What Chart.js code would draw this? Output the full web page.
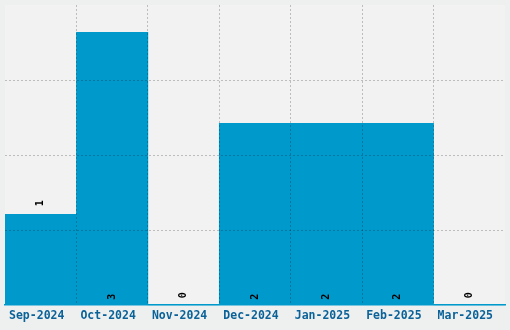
<!DOCTYPE html>
<html>
<head>
<meta charset="utf-8">
<script src="https://cdn.jsdelivr.net/npm/chart.js@4/dist/chart.umd.min.js"></script>
<style>
  html, body { margin: 0; padding: 0; background: #eef0f0; }
  #wrap { width: 510px; height: 330px; }
</style>
</head>
<body>
<div id="wrap"><canvas id="graph"></canvas></div>
<script>
const months = ["Sep-2024", "Oct-2024", "Nov-2024", "Dec-2024", "Jan-2025", "Feb-2025", "Mar-2025"];
const counts = [1, 3, 0, 2, 2, 2, 0];

const ctx = document.getElementById("graph").getContext("2d");

const chart = new Chart(ctx, {
  type: "bar",
  data: {
    labels: months,
    datasets: [{
      data: counts,
      backgroundColor: "#0099cc",
      borderWidth: 0,
      barPercentage: 1,
      categoryPercentage: 1
    }]
  },
  options: {
    responsive: true,
    maintainAspectRatio: false,
    animation: false,
    layout: { padding: { left: 5, right: 5, top: 5, bottom: 3 } },
    scales: {
      x: {
        grid: {
          z: 1,
          offset: true,
          drawTicks: false,
          color: (c) => (c.index > 0 && c.index < months.length) ? "rgba(0,0,0,0.22)" : "transparent"
        },
        border: { display: true, color: "#0099cc", width: 1.5, dash: [2, 2], z: 2 },
        ticks: {
          color: "#0b6298",
          padding: 4,
          labelOffset: -4,
          font: { family: "DejaVu Sans Mono", size: 11.5, weight: "bold" }
        }
      },
      y: {
        min: 0,
        max: 3.3,
        afterBuildTicks(axis) {
          axis.ticks = [0, 1, 2, 3, 4].map(i => ({ value: 3.3 * i / 4 }));
        },
        grid: {
          z: 1,
          drawTicks: false,
          color: (c) => (c.index > 0 && c.index < 4) ? "rgba(0,0,0,0.22)" : "transparent"
        },
        border: { display: false, dash: [2, 2] },
        ticks: { display: false }
      }
    },
    plugins: {
      legend: { display: false },
      tooltip: { enabled: false }
    }
  },
  plugins: [{
    id: "plotBackground",
    beforeDraw(chart) {
      const { ctx, chartArea } = chart;
      ctx.save();
      ctx.fillStyle = "#f2f2f2";
      ctx.fillRect(chartArea.left, chartArea.top, chartArea.right - chartArea.left, chartArea.bottom - chartArea.top);
      ctx.restore();
    }
  }, {
    id: "valueLabels",
    afterDraw(chart) {
      const { ctx } = chart;
      const meta = chart.getDatasetMeta(0);
      ctx.save();
      ctx.font = "bold 10px 'DejaVu Sans Mono'";
      ctx.fillStyle = "#000000";
      ctx.textBaseline = "middle";
      ctx.textAlign = "left";
      meta.data.forEach((bar, i) => {
        const v = counts[i];
        let y;
        if (v === 1) y = bar.y - 8;
        else if (v === 0) y = bar.base - 7;
        else y = bar.base - 5;
        ctx.save();
        ctx.translate(bar.x, y);
        ctx.rotate(-Math.PI / 2);
        ctx.fillText(String(v), 0, 0);
        ctx.restore();
      });
      ctx.restore();
    }
  }]
});
</script>
</body>
</html>
